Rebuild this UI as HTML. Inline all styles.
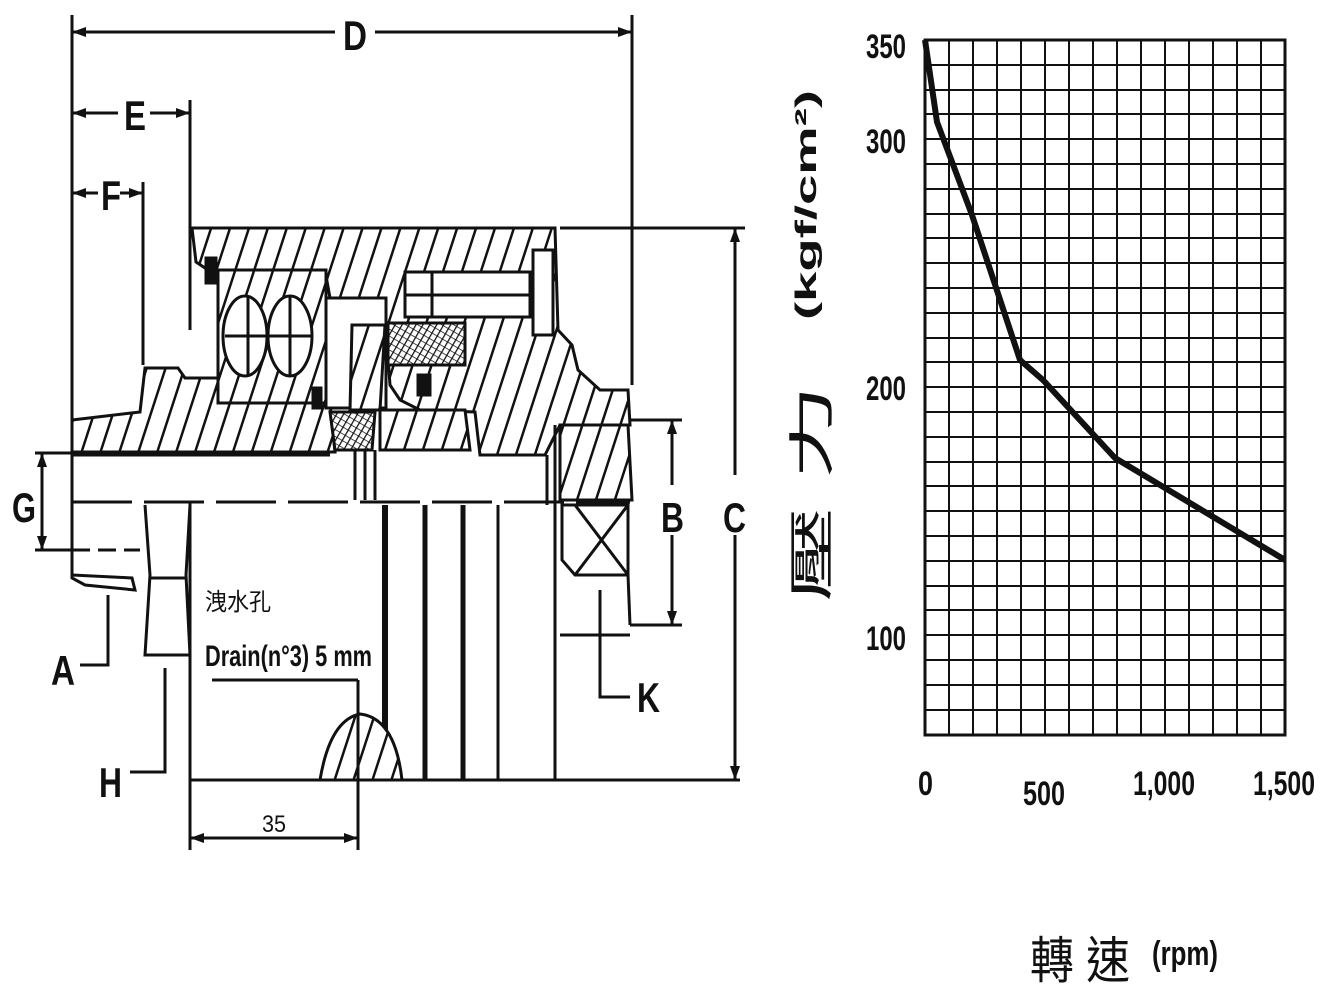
<!DOCTYPE html>
<html><head><meta charset="utf-8"><style>
html,body{margin:0;padding:0;background:#fff;}
svg{display:block}
.l{font-family:"Liberation Sans",sans-serif;font-weight:bold;fill:#111}
.c{font-family:"Liberation Sans","Noto Sans CJK TC",sans-serif;fill:#111}
</style></head><body>
<svg width="1333" height="1000" viewBox="0 0 1333 1000" xmlns="http://www.w3.org/2000/svg">
<defs>
<pattern id="h" patternUnits="userSpaceOnUse" width="18" height="18" patternTransform="rotate(18)">
<rect width="18" height="18" fill="#fff"/><line x1="0" y1="0" x2="0" y2="18" stroke="#111" stroke-width="5"/></pattern>
<pattern id="x" patternUnits="userSpaceOnUse" width="6" height="6" patternTransform="rotate(30)">
<rect width="6" height="6" fill="#fff"/><line x1="0" y1="0" x2="0" y2="6" stroke="#111" stroke-width="2.5"/><line x1="0" y1="0" x2="6" y2="0" stroke="#111" stroke-width="1.5"/></pattern>
</defs>
<g stroke="#111" stroke-width="3" fill="none">
<line x1="72" y1="15" x2="72" y2="420"/>
<line x1="632" y1="15" x2="632" y2="385"/>
<line x1="72" y1="32" x2="335" y2="32"/><line x1="375" y1="32" x2="632" y2="32"/>
<line x1="190" y1="100" x2="190" y2="330"/>
<line x1="72" y1="113" x2="118" y2="113"/><line x1="150" y1="113" x2="190" y2="113"/>
<line x1="143" y1="182" x2="143" y2="365"/>
<line x1="72" y1="193" x2="98" y2="193"/><line x1="120" y1="193" x2="143" y2="193"/>
<line x1="560" y1="228" x2="745" y2="228"/>
<line x1="735" y1="228" x2="735" y2="475"/><line x1="735" y1="535" x2="735" y2="780"/>
<line x1="630" y1="420" x2="682" y2="420"/><line x1="630" y1="625" x2="682" y2="625"/>
<line x1="672" y1="420" x2="672" y2="485"/><line x1="672" y1="535" x2="672" y2="625"/>
<line x1="35" y1="453" x2="80" y2="453"/><line x1="35" y1="550" x2="72" y2="550"/>
<line x1="42" y1="453" x2="42" y2="550"/>
<path d="M192,228 L555,228 L558,330 L572,345 L578,370 L600,390 L628,390 L630,425 L560,425 L545,455 L480,455 L475,412 L420,410 L400,400 L390,385 L386,330 L330,298 L325,270 L208,270 L196,262 Z" fill="url(#h)"/>
<path d="M72,420 L140,412 L145,368 L178,368 L185,378 L218,378 L218,403 L330,403 L335,452 L72,452 Z" fill="url(#h)"/>
<rect x="218" y="270" width="108" height="133" fill="url(#h)"/>
<ellipse cx="245" cy="336" rx="22" ry="40" fill="#fff"/><ellipse cx="290" cy="336" rx="22" ry="40" fill="#fff"/>
<line x1="225" y1="336" x2="312" y2="336"/><line x1="248" y1="296" x2="248" y2="376"/><line x1="290" y1="296" x2="290" y2="376"/>
<rect x="326" y="298" width="60" height="110" fill="#fff"/>
<path d="M352,325 L385,325 L380,410 L350,410 Z" fill="url(#h)"/>
<path d="M380,410 L465,410 L470,450 L380,450 Z" fill="url(#h)"/>
<path d="M330,412 L375,412 L372,450 L335,450 Z" fill="url(#x)"/>
<rect x="388" y="323" width="77" height="42" fill="url(#x)"/>
<rect x="405" y="272" width="125" height="45" fill="#fff"/>
<line x1="432" y1="272" x2="432" y2="317"/><line x1="405" y1="295" x2="530" y2="295"/>
<rect x="533" y="250" width="20" height="85" fill="#fff"/>
<rect x="206" y="258" width="10" height="25" fill="#111"/>
<rect x="418" y="375" width="12" height="20" fill="#111"/>
<rect x="313" y="388" width="8" height="20" fill="#111"/>
<path d="M560,425 L628,425 L632,500 L560,500 Z" fill="url(#h)"/>
<line x1="72" y1="455" x2="330" y2="455"/>
<line x1="355" y1="450" x2="355" y2="500"/><line x1="365" y1="450" x2="365" y2="500"/><line x1="375" y1="450" x2="375" y2="500"/>
<line x1="547" y1="455" x2="547" y2="505"/><line x1="555" y1="425" x2="555" y2="780"/>
<line x1="72" y1="502" x2="630" y2="502" stroke-dasharray="60,12"/>
<path d="M72,452 L72,578 L85,585 L135,590 L132,578 L72,575"/>
<line x1="72" y1="550" x2="140" y2="550" stroke-dasharray="18,8"/>
<path d="M145,505 L150,575 L145,655 L190,655 L186,575 L190,505"/>
<line x1="150" y1="578" x2="186" y2="578"/>
<line x1="190" y1="502" x2="190" y2="850"/>
<line x1="190" y1="780" x2="740" y2="780"/>
<line x1="385" y1="505" x2="385" y2="780" stroke-width="6"/>
<line x1="425" y1="505" x2="425" y2="780" stroke-width="5"/>
<line x1="463" y1="505" x2="463" y2="780" stroke-width="5"/>
<line x1="498" y1="505" x2="498" y2="780"/>
<path d="M562,505 L562,560 L575,575 L628,575 L628,505 Z"/>
<line x1="575" y1="505" x2="628" y2="575"/><line x1="628" y1="505" x2="575" y2="575"/>
<line x1="628" y1="575" x2="630" y2="625"/><line x1="560" y1="635" x2="630" y2="635"/>
<path d="M320,780 Q330,720 360,714 Q395,718 402,780 Z" fill="url(#h)"/>
<line x1="358" y1="680" x2="358" y2="850"/>
<line x1="212" y1="680" x2="358" y2="680"/>
<path d="M108,595 L108,665 L80,665"/><path d="M165,668 L165,772 L130,772"/>
<path d="M600,590 L600,697 L630,697"/>
<line x1="190" y1="838" x2="358" y2="838"/>
</g>
<g fill="#111">
<path d="M72,32 l14,-5 v10z M632,32 l-14,-5 v10z M72,113 l14,-5 v10z M190,113 l-14,-5 v10z M72,193 l14,-5 v10z M143,193 l-14,-5 v10z M735,228 l-5,14 h10z M735,780 l-5,-14 h10z M672,420 l-5,14 h10z M672,625 l-5,-14 h10z M42,453 l-5,14 h10z M42,550 l-5,-14 h10z M190,838 l14,-5 v10z M358,838 l-14,-5 v10z"/>
</g>
<g class="l" font-size="42">
<text x="343" y="50" textLength="24" lengthAdjust="spacingAndGlyphs">D</text>
<text x="124" y="130" textLength="22" lengthAdjust="spacingAndGlyphs">E</text>
<text x="101" y="210" textLength="20" lengthAdjust="spacingAndGlyphs">F</text>
<text x="12" y="522" textLength="24" lengthAdjust="spacingAndGlyphs">G</text>
<text x="51" y="685" textLength="24" lengthAdjust="spacingAndGlyphs">A</text>
<text x="99" y="797" textLength="23" lengthAdjust="spacingAndGlyphs">H</text>
<text x="661" y="532" textLength="23" lengthAdjust="spacingAndGlyphs">B</text>
<text x="723" y="532" textLength="23" lengthAdjust="spacingAndGlyphs">C</text>
<text x="637" y="712" textLength="23" lengthAdjust="spacingAndGlyphs">K</text>
</g>
<text x="262" y="832" font-size="24" textLength="24" lengthAdjust="spacingAndGlyphs" style="font-family:'Liberation Sans',sans-serif;fill:#111">35</text>
<text class="c" x="205" y="610" font-size="24" textLength="66" lengthAdjust="spacingAndGlyphs">洩水孔</text>
<text class="l" x="205" y="666" font-size="30" textLength="167" lengthAdjust="spacingAndGlyphs">Drain(n°3) 5 mm</text>
<g stroke="#111" stroke-width="2">
<line x1="949" y1="40" x2="949" y2="735"/><line x1="973" y1="40" x2="973" y2="735"/><line x1="997" y1="40" x2="997" y2="735"/><line x1="1021" y1="40" x2="1021" y2="735"/><line x1="1045" y1="40" x2="1045" y2="735"/><line x1="1069" y1="40" x2="1069" y2="735"/><line x1="1093" y1="40" x2="1093" y2="735"/><line x1="1117" y1="40" x2="1117" y2="735"/><line x1="1141" y1="40" x2="1141" y2="735"/><line x1="1165" y1="40" x2="1165" y2="735"/><line x1="1189" y1="40" x2="1189" y2="735"/><line x1="1213" y1="40" x2="1213" y2="735"/><line x1="1237" y1="40" x2="1237" y2="735"/><line x1="1261" y1="40" x2="1261" y2="735"/>
<line x1="925" y1="65" x2="1285" y2="65"/><line x1="925" y1="90" x2="1285" y2="90"/><line x1="925" y1="114" x2="1285" y2="114"/><line x1="925" y1="139" x2="1285" y2="139"/><line x1="925" y1="164" x2="1285" y2="164"/><line x1="925" y1="189" x2="1285" y2="189"/><line x1="925" y1="214" x2="1285" y2="214"/><line x1="925" y1="238" x2="1285" y2="238"/><line x1="925" y1="263" x2="1285" y2="263"/><line x1="925" y1="288" x2="1285" y2="288"/><line x1="925" y1="313" x2="1285" y2="313"/><line x1="925" y1="338" x2="1285" y2="338"/><line x1="925" y1="362" x2="1285" y2="362"/><line x1="925" y1="387" x2="1285" y2="387"/><line x1="925" y1="412" x2="1285" y2="412"/><line x1="925" y1="437" x2="1285" y2="437"/><line x1="925" y1="462" x2="1285" y2="462"/><line x1="925" y1="486" x2="1285" y2="486"/><line x1="925" y1="511" x2="1285" y2="511"/><line x1="925" y1="536" x2="1285" y2="536"/><line x1="925" y1="561" x2="1285" y2="561"/><line x1="925" y1="586" x2="1285" y2="586"/><line x1="925" y1="610" x2="1285" y2="610"/><line x1="925" y1="635" x2="1285" y2="635"/><line x1="925" y1="660" x2="1285" y2="660"/><line x1="925" y1="685" x2="1285" y2="685"/><line x1="925" y1="710" x2="1285" y2="710"/>
<rect x="925" y="40" width="360" height="695" fill="none" stroke-width="3"/>
</g>
<polyline points="925,40 937,122 972,215 1020,360 1043,380 1115,458 1285,560" fill="none" stroke="#111" stroke-width="6"/>
<g class="l" font-size="34">
<text x="866" y="58" textLength="40" lengthAdjust="spacingAndGlyphs">350</text>
<text x="866" y="153" textLength="40" lengthAdjust="spacingAndGlyphs">300</text>
<text x="866" y="400" textLength="40" lengthAdjust="spacingAndGlyphs">200</text>
<text x="866" y="650" textLength="40" lengthAdjust="spacingAndGlyphs">100</text>
<text x="918" y="795" textLength="15" lengthAdjust="spacingAndGlyphs">0</text>
<text x="1023" y="805" textLength="42" lengthAdjust="spacingAndGlyphs">500</text>
<text x="1133" y="795" textLength="62" lengthAdjust="spacingAndGlyphs">1,000</text>
<text x="1253" y="795" textLength="62" lengthAdjust="spacingAndGlyphs">1,500</text>
<text x="1152" y="965" textLength="66" lengthAdjust="spacingAndGlyphs">(rpm)</text>
</g>
<text class="l" font-size="30" transform="translate(816,320) rotate(-90)" textLength="230" lengthAdjust="spacingAndGlyphs">(kgf/cm²)</text>
<text class="c" font-size="46" transform="translate(828,602) rotate(-90)" textLength="218" lengthAdjust="spacingAndGlyphs">壓 力</text>
<text class="c" x="1030" y="978" font-size="50" textLength="100" lengthAdjust="spacingAndGlyphs">轉 速</text>
</svg>
</body></html>
